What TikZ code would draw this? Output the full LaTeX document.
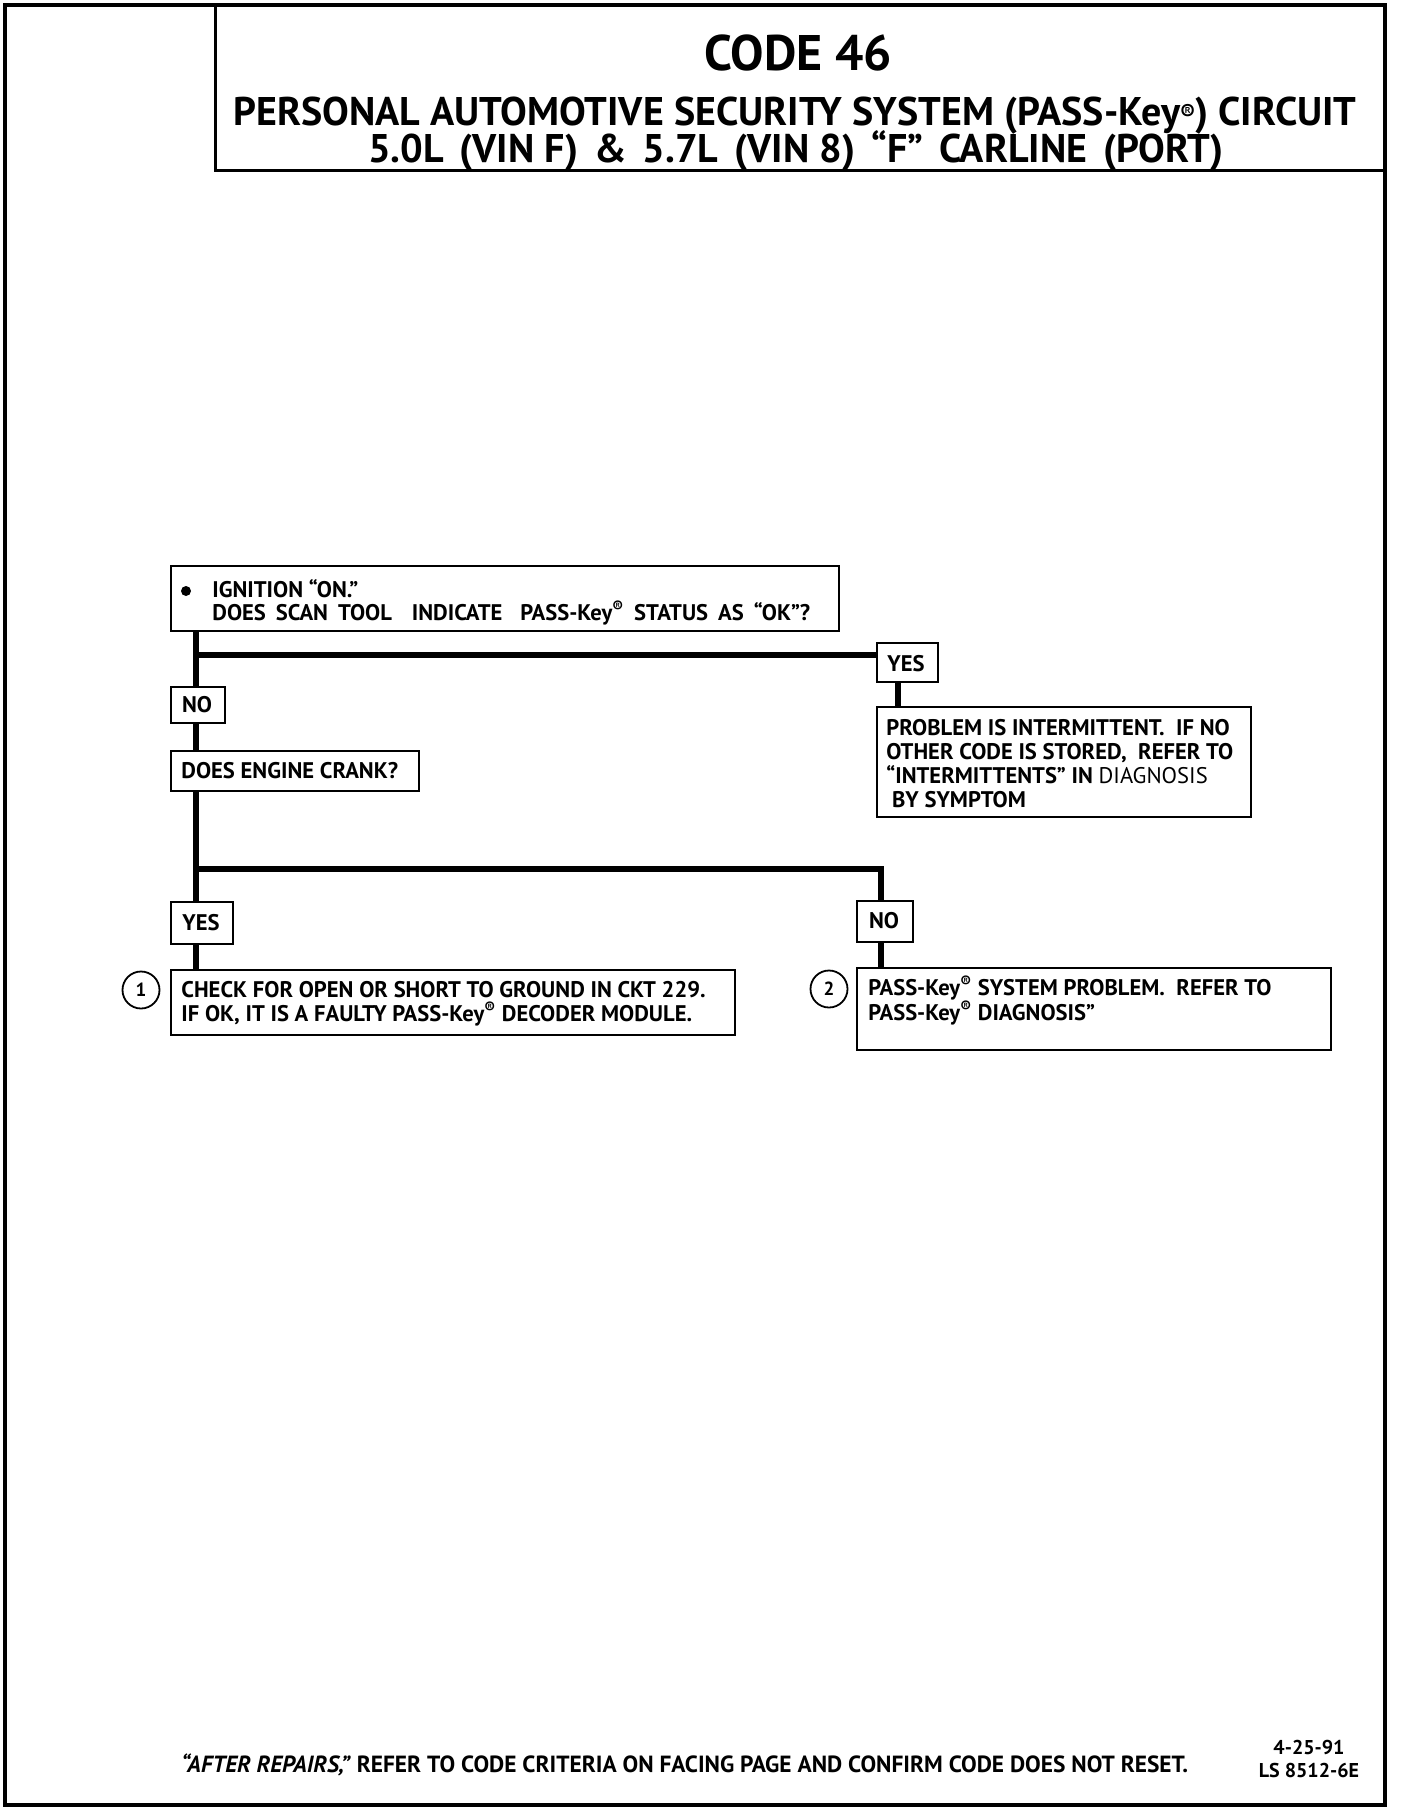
\documentclass[tikz,border=0pt]{standalone}
\usepackage{fontspec}
\setmainfont{PT Sans}
\newcommand{\regmark}{\textsuperscript{\textregistered}}
\begin{document}
\begin{tikzpicture}[x=0.5pt,y=-0.5pt,
  bodyfont/.style={font=\bfseries\fontsize{11.3}{12}\selectfont},
  box/.style={draw,line width=1.2pt,anchor=north west,inner sep=0pt},
  txt/.style={anchor=base west,inner sep=0pt,align=left,bodyfont},
  tagtxt/.style={anchor=base,inner sep=0pt,bodyfont},
  flow/.style={line width=3pt},
  num/.style={draw,circle,line width=0.9pt,minimum size=18.5pt,inner sep=0pt,font=\bfseries\fontsize{9.5}{10}\selectfont}]
\useasboundingbox (0,0) rectangle (1408,1810);
% page frame and title box
\draw[line width=2pt] (5,5) rectangle (1385,1805);
\draw[line width=1.5pt] (215,5) -- (215,170) -- (1385,170);
\node[font=\bfseries\fontsize{25}{30}\selectfont,anchor=base,inner sep=0pt] (code) at (798,70) {CODE 46};
\node[font=\bfseries\fontsize{20}{22}\selectfont,anchor=base,inner sep=0pt] (t1) at (795,125) {PERSONAL AUTOMOTIVE SECURITY SYSTEM (PASS-Key\raisebox{0.25ex}{\scalebox{0.55}{\textregistered}}) CIRCUIT};
\node[font=\bfseries\fontsize{20}{22}\selectfont,anchor=base,inner sep=0pt] (t2) at (796,162) {5.0L\hspace{0.4em}(VIN F)\hspace{0.4em}\&\hspace{0.4em}5.7L\hspace{0.4em}(VIN 8)\hspace{0.4em}“F”\hspace{0.4em}CARLINE\hspace{0.4em}(PORT)};

% boxes
\node[box,minimum width=334pt,minimum height=32.5pt] (q1) at (170,565) {};
\node[box,minimum width=30.5pt,minimum height=19.5pt] (yes1) at (876,642) {};
\node[box,minimum width=187pt,minimum height=55pt] (int) at (876,706) {};
\node[box,minimum width=27pt,minimum height=18pt] (no1) at (170,686) {};
\node[box,minimum width=124pt,minimum height=20pt] (crank) at (170,750) {};
\node[box,minimum width=31pt,minimum height=21pt] (yes2) at (170,901) {};
\node[box,minimum width=28pt,minimum height=20.5pt] (no2) at (856,900) {};
\node[box,minimum width=282pt,minimum height=32.5pt] (check) at (170,969) {};
\node[box,minimum width=237pt,minimum height=41pt] (sys) at (856,967) {};
\node[num] (c1) at (141,990) {1};
\node[num] (c2) at (829,989) {2};

% box texts (base anchor = baseline of the last line)
\node[circle,fill,inner sep=0pt,minimum size=5pt] (bul) at (186,591) {};
\node[txt,font=\bfseries\fontsize{11.3}{11.5}\selectfont] (q1t) at (212,620)
  {IGNITION “ON.”\\DOES\hspace{5pt}SCAN\hspace{5pt}TOOL\hspace{10pt}INDICATE\hspace{9pt}PASS-Key\regmark\hspace{5pt}STATUS\hspace{5pt}AS\hspace{5pt}“OK”?};
\node[tagtxt] (yes1t) at (906,671) {YES};
\node[txt] (intt) at (886,807)
  {PROBLEM IS INTERMITTENT.\ \ IF NO\\OTHER CODE IS STORED,\ \ REFER TO\\“INTERMITTENTS” IN\ {\mdseries DIAGNOSIS}\\\ BY SYMPTOM};
\node[tagtxt] (no1t) at (197,712) {NO};
\node[txt] (crankt) at (181,778) {DOES ENGINE CRANK?};
\node[tagtxt] (yes2t) at (201,930) {YES};
\node[tagtxt] (no2t) at (884,928) {NO};
\node[txt] (checkt) at (181,1021)
  {CHECK FOR OPEN OR SHORT TO GROUND IN CKT 229.\\IF OK, IT IS A FAULTY PASS-Key\regmark\ DECODER MODULE.};
\node[txt,font=\bfseries\fontsize{11.3}{12.5}\selectfont] (syst) at (868,1020)
  {PASS-Key\regmark\ SYSTEM PROBLEM.\ \ REFER TO\\PASS-Key\regmark\ DIAGNOSIS”};

% connectors
\coordinate (tx) at (196,0);
\coordinate (j1) at (196,655);
\coordinate (j2) at (196,869);
\coordinate (yx) at (898,0);
\coordinate (nx) at (881,0);
\draw[flow] (q1.south -| tx) -- (no1.north -| tx);
\draw[flow] (no1.south -| tx) -- (crank.north -| tx);
\draw[flow] (crank.south -| tx) -- (yes2.north -| tx);
\draw[flow] (yes2.south -| tx) -- (check.north -| tx);
\draw[flow] (j1) -- (j1 -| yes1.west);
\draw[flow] (yes1.south -| yx) -- (int.north -| yx);
\draw[flow] (j2) -- (j2 -| nx) -- (no2.north -| nx);
\draw[flow] (no2.south -| nx) -- (sys.north -| nx);

% footer
\node[anchor=base west,inner sep=0pt,font=\bfseries\fontsize{11.7}{13}\selectfont] (foot) at (181,1772)
  {\textit{“AFTER REPAIRS,”}\ REFER TO CODE CRITERIA ON FACING PAGE AND CONFIRM CODE DOES NOT RESET.};
\node[anchor=base,inner sep=0pt,font=\bfseries\fontsize{10}{11}\selectfont] (date) at (1309,1754) {4-25-91};
\node[anchor=base,inner sep=0pt,font=\bfseries\fontsize{10}{11}\selectfont] (ls) at (1309,1777) {LS 8512-6E};
\end{tikzpicture}
\end{document}
